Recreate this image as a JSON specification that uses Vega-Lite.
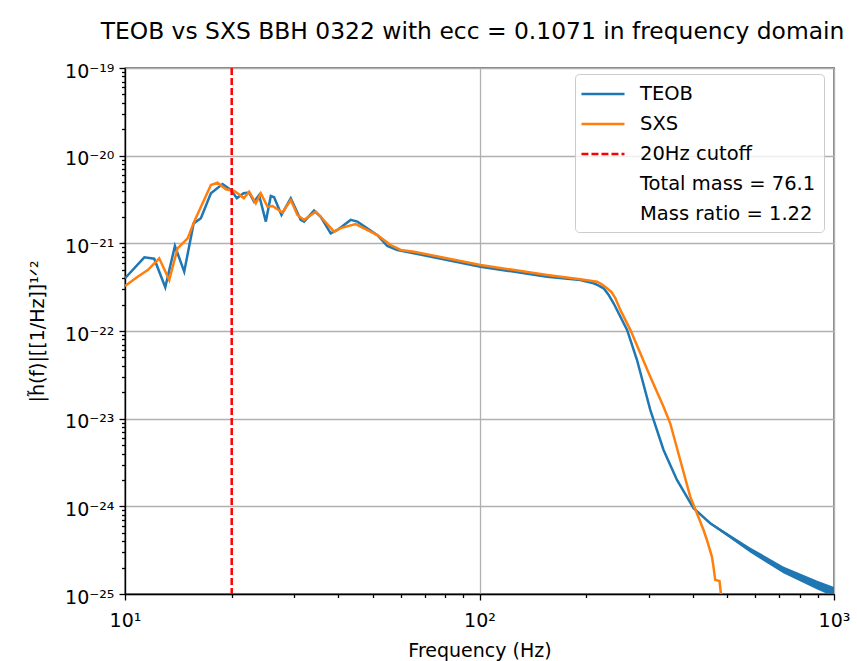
{
  "$schema": "https://vega.github.io/schema/vega-lite/v6.json",
  "autosize": "none",
  "width": 709,
  "height": 526,
  "padding": {"left": 125, "top": 68, "right": 23, "bottom": 67},
  "background": "white",
  "config": {
    "font": "DejaVu Sans",
    "view": {"stroke": "black", "strokeWidth": 1.3},
    "axis": {
      "domainColor": "black",
      "domainWidth": 1.3,
      "tickColor": "black",
      "tickWidth": 1.3,
      "labelColor": "black",
      "labelFont": "DejaVu Sans",
      "labelFontSize": 19,
      "titleFont": "DejaVu Sans",
      "titleFontSize": 19,
      "titleFontWeight": "normal",
      "titleColor": "black",
      "gridColor": "#b0b0b0",
      "gridWidth": 1.3
    },
    "legend": {
      "orient": "none",
      "legendX": 450,
      "legendY": 6,
      "title": null,
      "symbolType": "M-1.29,0H2.81",
      "symbolSize": 441,
      "symbolStrokeWidth": 2.5,
      "labelFont": "DejaVu Sans",
      "labelFontSize": 19.5,
      "labelColor": "black",
      "labelOffset": 33,
      "labelLimit": 400,
      "padding": 8,
      "rowPadding": 8,
      "strokeColor": "#cccccc",
      "fillColor": "rgba(255,255,255,0.8)",
      "cornerRadius": 4
    }
  },
  "title": {
    "text": "TEOB vs SXS BBH 0322 with ecc = 0.1071 in frequency domain",
    "font": "DejaVu Sans",
    "fontSize": 23.4,
    "fontWeight": "normal",
    "color": "black",
    "offset": 18,
    "dx": -7
  },
  "datasets": {
    "teob": [
      {"f": 10.0, "h": 4.0e-22, "series": "TEOB"},
      {"f": 11.34, "h": 6.93e-22, "series": "TEOB"},
      {"f": 12.09, "h": 6.68e-22, "series": "TEOB"},
      {"f": 12.99, "h": 3.15e-22, "series": "TEOB"},
      {"f": 13.83, "h": 9.33e-22, "series": "TEOB"},
      {"f": 14.69, "h": 4.75e-22, "series": "TEOB"},
      {"f": 15.62, "h": 1.69e-21, "series": "TEOB"},
      {"f": 16.37, "h": 1.93e-21, "series": "TEOB"},
      {"f": 17.47, "h": 3.72e-21, "series": "TEOB"},
      {"f": 18.84, "h": 4.75e-21, "series": "TEOB"},
      {"f": 19.89, "h": 4.06e-21, "series": "TEOB"},
      {"f": 20.68, "h": 3.27e-21, "series": "TEOB"},
      {"f": 21.60, "h": 3.72e-21, "series": "TEOB"},
      {"f": 22.39, "h": 3.78e-21, "series": "TEOB"},
      {"f": 23.13, "h": 2.99e-21, "series": "TEOB"},
      {"f": 23.89, "h": 3.56e-21, "series": "TEOB"},
      {"f": 24.96, "h": 1.77e-21, "series": "TEOB"},
      {"f": 25.78, "h": 3.47e-21, "series": "TEOB"},
      {"f": 26.34, "h": 3.35e-21, "series": "TEOB"},
      {"f": 27.63, "h": 2.11e-21, "series": "TEOB"},
      {"f": 29.35, "h": 3.27e-21, "series": "TEOB"},
      {"f": 31.31, "h": 1.85e-21, "series": "TEOB"},
      {"f": 32.00, "h": 1.77e-21, "series": "TEOB"},
      {"f": 34.14, "h": 2.36e-21, "series": "TEOB"},
      {"f": 35.66, "h": 2.01e-21, "series": "TEOB"},
      {"f": 38.04, "h": 1.30e-21, "series": "TEOB"},
      {"f": 39.73, "h": 1.42e-21, "series": "TEOB"},
      {"f": 43.32, "h": 1.85e-21, "series": "TEOB"},
      {"f": 45.24, "h": 1.77e-21, "series": "TEOB"},
      {"f": 51.50, "h": 1.24e-21, "series": "TEOB"},
      {"f": 54.95, "h": 9.33e-22, "series": "TEOB"},
      {"f": 58.65, "h": 8.40e-22, "series": "TEOB"},
      {"f": 65.30, "h": 7.69e-22, "series": "TEOB"},
      {"f": 100.65, "h": 5.42e-22, "series": "TEOB"},
      {"f": 155.1, "h": 4.16e-22, "series": "TEOB"},
      {"f": 192.5, "h": 3.82e-22, "series": "TEOB"},
      {"f": 209.9, "h": 3.50e-22, "series": "TEOB"},
      {"f": 216.3, "h": 3.32e-22, "series": "TEOB"},
      {"f": 223.9, "h": 3.07e-22, "series": "TEOB"},
      {"f": 230.9, "h": 2.61e-22, "series": "TEOB"},
      {"f": 238.9, "h": 2.07e-22, "series": "TEOB"},
      {"f": 260.8, "h": 1.03e-22, "series": "TEOB"},
      {"f": 278.2, "h": 4.67e-23, "series": "TEOB"},
      {"f": 303.2, "h": 1.26e-23, "series": "TEOB"},
      {"f": 330.5, "h": 4.40e-24, "series": "TEOB"},
      {"f": 360.6, "h": 2.00e-24, "series": "TEOB"},
      {"f": 401.6, "h": 9.51e-25, "series": "TEOB"},
      {"f": 447.5, "h": 6.41e-25, "series": "TEOB"},
      {"f": 580.0, "h": 3.18e-25, "series": "TEOB"},
      {"f": 719.6, "h": 1.88e-25, "series": "TEOB"},
      {"f": 894.0, "h": 1.27e-25, "series": "TEOB"},
      {"f": 1000.0, "h": 1.06e-25, "series": "TEOB"}
    ],
    "band": [
      {"f": 447.5, "lo": 6.25e-25, "hi": 6.58e-25},
      {"f": 580.0, "lo": 2.98e-25, "hi": 3.40e-25},
      {"f": 719.6, "lo": 1.72e-25, "hi": 2.06e-25},
      {"f": 894.0, "lo": 1.13e-25, "hi": 1.43e-25},
      {"f": 1000.0, "lo": 0.93e-25, "hi": 1.20e-25}
    ],
    "sxs": [
      {"f": 10.0, "h": 3.26e-22, "series": "SXS"},
      {"f": 10.86, "h": 4.16e-22, "series": "SXS"},
      {"f": 11.59, "h": 4.96e-22, "series": "SXS"},
      {"f": 12.49, "h": 6.75e-22, "series": "SXS"},
      {"f": 13.33, "h": 3.82e-22, "series": "SXS"},
      {"f": 14.07, "h": 8.78e-22, "series": "SXS"},
      {"f": 15.02, "h": 1.14e-21, "series": "SXS"},
      {"f": 15.68, "h": 1.77e-21, "series": "SXS"},
      {"f": 17.47, "h": 4.63e-21, "series": "SXS"},
      {"f": 18.24, "h": 4.92e-21, "series": "SXS"},
      {"f": 19.26, "h": 4.13e-21, "series": "SXS"},
      {"f": 20.32, "h": 3.95e-21, "series": "SXS"},
      {"f": 20.77, "h": 3.72e-21, "series": "SXS"},
      {"f": 21.64, "h": 3.27e-21, "series": "SXS"},
      {"f": 22.39, "h": 3.88e-21, "series": "SXS"},
      {"f": 23.39, "h": 2.86e-21, "series": "SXS"},
      {"f": 24.16, "h": 3.72e-21, "series": "SXS"},
      {"f": 25.23, "h": 2.62e-21, "series": "SXS"},
      {"f": 26.07, "h": 2.67e-21, "series": "SXS"},
      {"f": 27.81, "h": 2.24e-21, "series": "SXS"},
      {"f": 29.35, "h": 3.12e-21, "series": "SXS"},
      {"f": 30.65, "h": 2.11e-21, "series": "SXS"},
      {"f": 32.00, "h": 1.85e-21, "series": "SXS"},
      {"f": 34.51, "h": 2.30e-21, "series": "SXS"},
      {"f": 35.66, "h": 2.01e-21, "series": "SXS"},
      {"f": 38.87, "h": 1.36e-21, "series": "SXS"},
      {"f": 40.59, "h": 1.49e-21, "series": "SXS"},
      {"f": 44.74, "h": 1.66e-21, "series": "SXS"},
      {"f": 51.50, "h": 1.24e-21, "series": "SXS"},
      {"f": 56.15, "h": 9.57e-22, "series": "SXS"},
      {"f": 59.94, "h": 8.40e-22, "series": "SXS"},
      {"f": 65.30, "h": 8.03e-22, "series": "SXS"},
      {"f": 100.65, "h": 5.66e-22, "series": "SXS"},
      {"f": 155.1, "h": 4.36e-22, "series": "SXS"},
      {"f": 192.5, "h": 3.89e-22, "series": "SXS"},
      {"f": 214.5, "h": 3.65e-22, "series": "SXS"},
      {"f": 220.7, "h": 3.44e-22, "series": "SXS"},
      {"f": 228.9, "h": 3.07e-22, "series": "SXS"},
      {"f": 235.4, "h": 2.79e-22, "series": "SXS"},
      {"f": 241.6, "h": 2.38e-22, "series": "SXS"},
      {"f": 249.6, "h": 1.74e-22, "series": "SXS"},
      {"f": 266.4, "h": 1.03e-22, "series": "SXS"},
      {"f": 284.2, "h": 5.57e-23, "series": "SXS"},
      {"f": 303.2, "h": 3.01e-23, "series": "SXS"},
      {"f": 330.5, "h": 1.37e-23, "series": "SXS"},
      {"f": 345.1, "h": 8.86e-24, "series": "SXS"},
      {"f": 368.3, "h": 3.38e-24, "series": "SXS"},
      {"f": 393.0, "h": 1.29e-24, "series": "SXS"},
      {"f": 410.5, "h": 8.34e-25, "series": "SXS"},
      {"f": 428.5, "h": 5.37e-25, "series": "SXS"},
      {"f": 438.0, "h": 4.13e-25, "series": "SXS"},
      {"f": 452.4, "h": 2.67e-25, "series": "SXS"},
      {"f": 457.1, "h": 2.05e-25, "series": "SXS"},
      {"f": 462.2, "h": 1.45e-25, "series": "SXS"},
      {"f": 475.3, "h": 1.41e-25, "series": "SXS"},
      {"f": 479.6, "h": 1.02e-25, "series": "SXS"},
      {"f": 483.0, "h": 6.0e-26, "series": "SXS"}
    ],
    "cutoff": [
      {"f": 20, "series": "20Hz cutoff"}
    ]
  },
  "layer": [
    {
      "data": {"name": "teob"},
      "mark": {"type": "line", "strokeWidth": 2.5, "clip": true},
      "encoding": {
        "x": {
          "field": "f", "type": "quantitative",
          "scale": {"type": "log", "domain": [10, 1000]},
          "axis": {
            "orient": "bottom",
            "title": "Frequency (Hz)",
            "values": [10, 100, 1000],
            "labelExpr": "datum.value < 50 ? '10¹' : datum.value < 500 ? '10²' : '10³'",
            "tickSize": 6,
            "labelPadding": 11,
            "titlePadding": 11,
            "grid": true,
            "labelFlush": false
          }
        },
        "y": {
          "field": "h", "type": "quantitative",
          "scale": {"type": "log", "domain": [1e-25, 1e-19]},
          "axis": {
            "orient": "left",
            "title": "|h̃(f)|[[1/Hz]]¹ᐟ²",
            "values": [1e-25, 1e-24, 1e-23, 1e-22, 1e-21, 1e-20, 1e-19],
            "labelExpr": "['10⁻²⁵','10⁻²⁴','10⁻²³','10⁻²²','10⁻²¹','10⁻²⁰','10⁻¹⁹'][round(log(datum.value)/LN10)+25]",
            "tickSize": 6,
            "labelPadding": 5,
            "labelOffset": 3,
            "titlePadding": 17,
            "grid": true,
            "labelFlush": false
          }
        },
        "color": {
          "field": "series", "type": "nominal",
          "scale": {
            "domain": ["TEOB", "SXS", "20Hz cutoff", "Total mass = 76.1", "Mass ratio = 1.22"],
            "range": ["#1f77b4", "#ff7f0e", "#ff0000", "transparent", "transparent"]
          },
          "legend": {}
        }
      }
    },
    {
      "data": {"name": "band"},
      "mark": {"type": "area", "color": "#1f77b4", "clip": true},
      "encoding": {
        "x": {"field": "f", "type": "quantitative", "axis": null},
        "y": {"field": "lo", "type": "quantitative", "axis": null},
        "y2": {"field": "hi"}
      }
    },
    {
      "data": {"name": "sxs"},
      "mark": {"type": "line", "strokeWidth": 2.5, "clip": true},
      "encoding": {
        "x": {
          "field": "f", "type": "quantitative",
          "axis": {
            "orient": "bottom",
            "title": null,
            "values": [20, 30, 40, 50, 60, 70, 80, 90, 200, 300, 400, 500, 600, 700, 800, 900],
            "labels": false,
            "tickSize": 3.5,
            "domain": false,
            "grid": false
          }
        },
        "y": {
          "field": "h", "type": "quantitative",
          "axis": {
            "orient": "left",
            "title": null,
            "values": [2e-25, 3e-25, 4e-25, 5e-25, 6e-25, 7e-25, 8e-25, 9e-25,
                       2e-24, 3e-24, 4e-24, 5e-24, 6e-24, 7e-24, 8e-24, 9e-24,
                       2e-23, 3e-23, 4e-23, 5e-23, 6e-23, 7e-23, 8e-23, 9e-23,
                       2e-22, 3e-22, 4e-22, 5e-22, 6e-22, 7e-22, 8e-22, 9e-22,
                       2e-21, 3e-21, 4e-21, 5e-21, 6e-21, 7e-21, 8e-21, 9e-21,
                       2e-20, 3e-20, 4e-20, 5e-20, 6e-20, 7e-20, 8e-20, 9e-20],
            "labels": false,
            "tickSize": 3.5,
            "domain": false,
            "grid": false
          }
        },
        "color": {"field": "series", "type": "nominal"}
      }
    },
    {
      "data": {"name": "cutoff"},
      "mark": {"type": "rule", "strokeWidth": 2.5},
      "encoding": {
        "x": {"field": "f", "type": "quantitative", "axis": null},
        "color": {"field": "series", "type": "nominal"},
        "strokeDash": {
          "field": "series", "type": "nominal",
          "scale": {
            "domain": ["TEOB", "SXS", "20Hz cutoff", "Total mass = 76.1", "Mass ratio = 1.22"],
            "range": [[1, 0], [1, 0], [7, 3], [1, 0], [1, 0]]
          }
        }
      }
    }
  ],
  "resolve": {"axis": {"x": "independent", "y": "independent"}}
}
